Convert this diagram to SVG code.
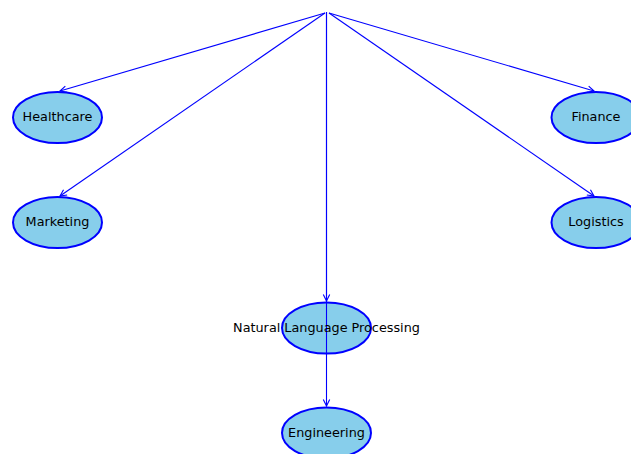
<svg xmlns="http://www.w3.org/2000/svg" width="631" height="454" viewBox="0 0 631 454">
<style>
.node ellipse{fill:#87CEEB;stroke:#0000FF;stroke-width:2}
.node text{font-family:"DejaVu Sans",sans-serif;font-size:12.8px;fill:#000;text-anchor:middle;dominant-baseline:central}
.edge{stroke:#0000FF;stroke-width:1.1;fill:none;marker-end:url(#arr)}
</style>
<defs>
<marker id="arr" markerUnits="userSpaceOnUse" markerWidth="12" markerHeight="12" refX="0" refY="0" viewBox="-8 -6 10 12" orient="auto" overflow="visible">
<path d="M-6.5,-3.2 L0,0 L-6.5,3.2" fill="none" stroke="#0000FF" stroke-width="1.1"/>
</marker>
</defs>
<g id="n-healthcare" class="node"><ellipse cx="57.5" cy="117.5" rx="44.5" ry="25.5"/></g>
<g id="n-marketing" class="node"><ellipse cx="57.5" cy="222.5" rx="44.5" ry="25.5"/></g>
<g id="n-finance" class="node"><ellipse cx="596" cy="117.5" rx="44.5" ry="25.5"/></g>
<g id="n-logistics" class="node"><ellipse cx="596" cy="222.5" rx="44.5" ry="25.5"/></g>
<g id="n-nlp" class="node"><ellipse cx="326.5" cy="328" rx="44.5" ry="25.5"/></g>
<g id="n-engineering" class="node"><ellipse cx="326.5" cy="433" rx="44.5" ry="25.5"/></g>
<g id="edges">
<line class="edge" x1="325" y1="13" x2="60" y2="91"/>
<line class="edge" x1="325" y1="13" x2="60" y2="196"/>
<line class="edge" x1="329" y1="13" x2="594" y2="91"/>
<line class="edge" x1="329" y1="13" x2="594" y2="196"/>
<line class="edge" x1="326.5" y1="12" x2="326.5" y2="301"/>
<line class="edge" x1="326.5" y1="12" x2="326.5" y2="406"/>
</g>
<g id="labels">
<g class="node"><text x="57.5" y="116.5">Healthcare</text></g>
<g class="node"><text x="57.5" y="221.5">Marketing</text></g>
<g class="node"><text x="596" y="116.5">Finance</text></g>
<g class="node"><text x="596" y="221.5">Logistics</text></g>
<g class="node"><text x="326.5" y="327">Natural Language Processing</text></g>
<g class="node"><text x="326.5" y="432">Engineering</text></g>
</g>
</svg>
